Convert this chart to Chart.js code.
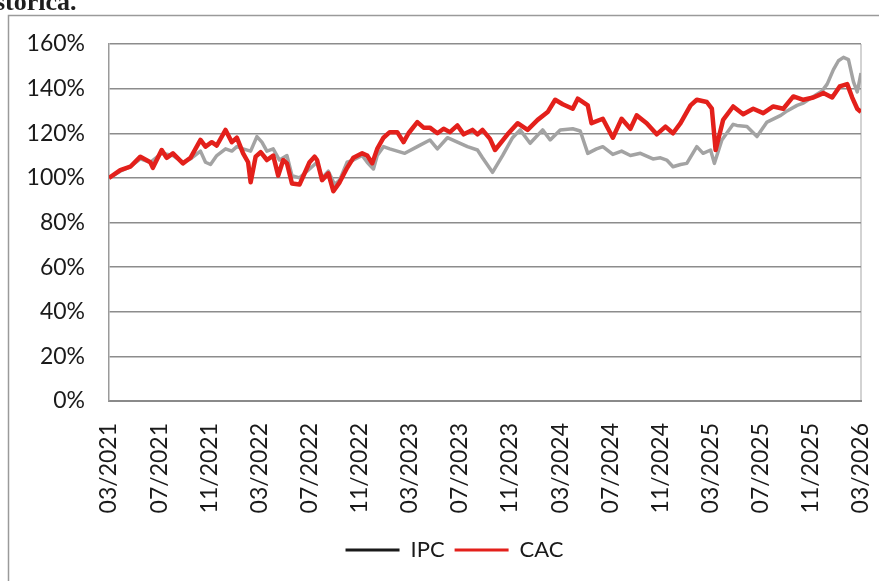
<!DOCTYPE html>
<html>
<head>
<meta charset="utf-8">
<script src="https://cdn.jsdelivr.net/npm/chart.js@4/dist/chart.umd.min.js"></script>
<style>
html,body{margin:0;padding:0;background:#fff;}
#wrap{position:relative;width:879px;height:581px;overflow:hidden;}
canvas{display:block;}
</style>
</head>
<body>
<div id="wrap"><canvas id="c" width="879" height="581"></canvas></div>
<script>
// Months elapsed since 03/2021 and index level (% of start)
const cacMonths = [0,0.9,1.7,2.5,3.3,3.5,4.2,4.6,5.1,5.9,6.5,7.3,7.7,8.2,8.6,9.3,9.8,10.2,10.7,11.1,11.3,11.7,12.1,12.6,13.1,13.5,13.9,14.2,14.6,15.2,16.0,16.4,16.6,17.0,17.5,17.9,18.4,19.0,19.5,20.2,20.6,21.0,21.4,21.9,22.4,23.0,23.5,23.9,24.6,25.1,25.6,26.2,26.7,27.2,27.8,28.3,29.0,29.4,29.8,30.4,30.8,31.8,32.6,33.4,34.2,35.0,35.6,36.2,37.0,37.4,38.2,38.5,39.4,40.2,40.9,41.6,42.1,42.9,43.7,44.4,45.0,45.6,46.4,46.9,47.7,48.1,48.4,49.0,49.8,50.6,51.4,52.2,53.0,53.8,54.6,55.4,56.2,57.0,57.7,58.3,58.9,59.3,59.7,60.0];
const cacValues = [100,103.5,105,109.5,107,104.5,112.5,109,111,106.5,109,117,114,116,114.5,121.5,116,118,111,107,98,109.5,111.5,108,110,101,108,106.5,97.5,97,107,109.5,108,99,102,94,98,104.5,109,111,110,106.5,113,118,120.5,120.5,116,120,125,122.5,122.5,120,122,120.5,123.5,119.5,121.5,119.5,121.5,117.5,112.5,119.5,124.5,121.5,126,129.5,135,133,131,135.5,132.5,124.5,126.5,118,126.5,122,128,124.5,119.5,123,120,124.5,132.5,135,134,131,112.5,126,132,128.5,131,129,132,131,136.5,135,136,138,136,141,142,136,131,129.5];

const ipcMonths = [0,0.9,1.7,2.5,3.3,4.2,5.1,5.9,6.5,7.3,7.7,8.1,8.6,9.3,9.8,10.2,10.7,11.3,11.8,12.2,12.6,13.1,13.6,14.2,14.6,15.2,16.0,16.6,17.0,17.5,18.0,18.4,19.0,19.5,20.2,20.6,21.1,21.4,21.9,22.4,23.0,23.6,24.6,25.6,26.2,27.0,27.8,28.6,29.4,29.8,30.6,31.4,32.2,32.8,33.6,34.6,35.2,36.0,37.0,37.6,38.2,38.9,39.4,40.2,40.9,41.6,42.4,43.4,44.0,44.5,45.0,45.6,46.1,46.9,47.4,48.0,48.3,48.9,49.8,50.1,50.9,51.7,52.5,53.6,54.1,54.9,55.4,56.2,56.9,57.3,57.8,58.2,58.6,59.0,59.4,59.7,60.0];
const ipcValues = [100,103,105,108.5,107,111,110,107,108.5,112,107,106,110,113,112,114,113,112,118.5,116,112,113,108,110,101,100,104,107,100,103,97,99,107,108,110,107,104,110,114,113,112,111,114,117,113,118,116,114,112.5,109,102.5,110,118,121.5,115.5,121.5,117,121.5,122,121,111,113,114,110.5,112,110,111,108.5,109,108,105,106,106.5,114,111,112.5,106.5,117,124,123.5,123,118.5,125,128,130,132.5,133.5,136.5,139,142,148.5,152.5,154,153,143,138.5,147];

const seriesNames = ['IPC','CAC'];
const yTicks = [0,20,40,60,80,100,120,140,160];

function toPoints(ms, vs){ return ms.map((m,i)=>({x:m,y:vs[i]})); }
function monthLabel(v){
  const k = 2 + v;
  const mm = (k % 12) + 1;
  const yy = 2021 + Math.floor(k / 12);
  return (mm < 10 ? '0' : '') + mm + '/' + yy;
}

const FONT = 'Lato';
const legendColors = ['#1a1a1a', '#e3201b'];

const frame = {
  id: 'frame',
  afterLayout(chart){
    const lg = chart.legend;
    if (lg) { lg.left += 48; }
  },
  beforeDraw(chart){
    const ctx = chart.ctx;
    ctx.save();
    ctx.fillStyle = '#fff';
    ctx.fillRect(0,0,chart.width,chart.height);
    ctx.strokeStyle = '#9a9a9a';
    ctx.lineWidth = 1.5;
    ctx.strokeRect(8.5, 15.5, 900, 700);
    const a = chart.chartArea;
    ctx.strokeStyle = '#c4c4c4';
    ctx.lineWidth = 1.5;
    ctx.beginPath();
    ctx.moveTo(a.right, a.top);
    ctx.lineTo(a.right, a.bottom);
    ctx.stroke();
    ctx.restore();
  },
  afterDraw(chart){
    const ctx = chart.ctx;
    ctx.save();
    ctx.fillStyle = '#1e1e1e';
    ctx.font = 'bold 26px "Liberation Serif"';
    ctx.textBaseline = 'alphabetic';
    ctx.fillText('stórica.', -5, 10);
    ctx.restore();
  }
};

new Chart(document.getElementById('c'), {
  type: 'line',
  data: {
    datasets: [
      { label: seriesNames[0], data: toPoints(ipcMonths, ipcValues), borderColor: '#a3a3a3', backgroundColor: '#a3a3a3', borderWidth: 3.5, pointRadius: 0, tension: 0, order: 2, borderJoinStyle: 'round' },
      { label: seriesNames[1], data: toPoints(cacMonths, cacValues), borderColor: '#e3201b', backgroundColor: '#e3201b', borderWidth: 4.5, pointRadius: 0, tension: 0, order: 1, borderJoinStyle: 'round' }
    ]
  },
  options: {
    responsive: false,
    animation: false,
    layout: { padding: { left: 0, right: 18, top: 44, bottom: 10 } },
    plugins: {
      tooltip: { enabled: false },
      legend: {
        position: 'bottom',
        labels: {
          font: { family: FONT, size: 22 },
          color: '#1a1a1a',
          boxWidth: 54,
          boxHeight: 3,
          padding: 10,
          generateLabels(chart){
            return chart.data.datasets.map((d,i)=>({
              text: d.label, fillStyle: legendColors[i], strokeStyle: legendColors[i],
              lineWidth: 0, hidden: false, datasetIndex: i, fontColor: '#1a1a1a'
            }));
          }
        }
      }
    },
    scales: {
      x: {
        type: 'linear', min: 0, max: 60,
        afterBuildTicks(scale){ scale.ticks = Array.from({length:16},(_,i)=>({value:i*4})); },
        afterFit(scale){ scale.height = 128; scale.paddingLeft = 0; scale.paddingRight = 0; },
        ticks: {
          callback: (v)=>monthLabel(v),
          minRotation: 90, maxRotation: 90, autoSkip: false,
          font: { family: FONT, size: 23 }, color: '#1a1a1a', padding: 22
        },
        grid: { display: false, drawTicks: false },
        border: { display: true, color: '#8a8a8a', width: 2 }
      },
      y: {
        min: 0, max: 160,
        afterBuildTicks(scale){ scale.ticks = yTicks.map(v=>({value:v})); },
        afterFit(scale){ scale.width = 109; },
        ticks: {
          callback: (v)=>v + '%',
          font: { family: FONT, size: 23 }, color: '#1a1a1a', padding: 24
        },
        grid: { color: '#8c8c8c', lineWidth: 1.5, drawTicks: false },
        border: { display: true, color: '#9a9a9a', width: 1.5 }
      }
    }
  },
  plugins: [frame]
});
</script>
</body>
</html>
